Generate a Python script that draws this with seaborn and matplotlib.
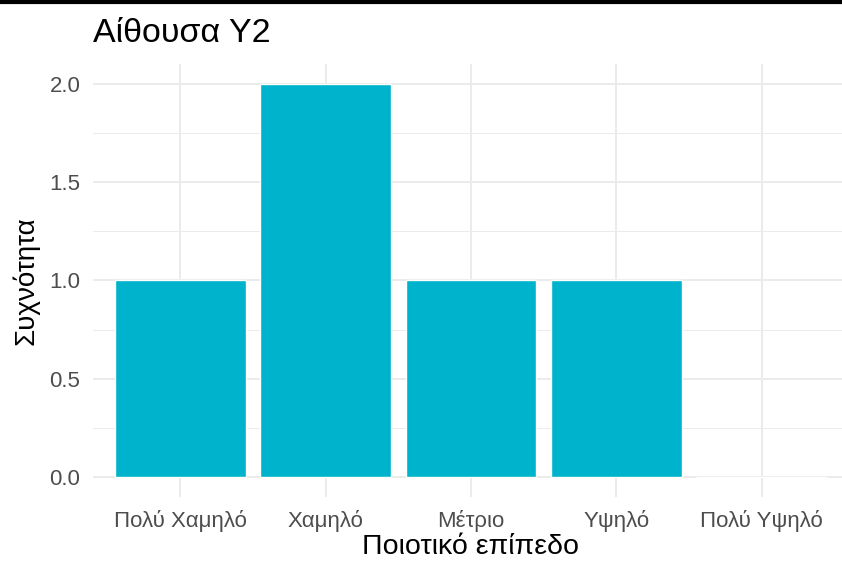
import seaborn as sns
import matplotlib.pyplot as plt
import pandas as pd
from matplotlib.lines import Line2D

# --- Data ---
levels = ["Πολύ Χαμηλό", "Χαμηλό", "Μέτριο", "Υψηλό", "Πολύ Υψηλό"]
counts = [1, 2, 1, 1, 0]

df = pd.DataFrame({"level": levels, "count": counts})

sns.set_theme(style="whitegrid")
plt.rcParams["font.family"] = ["Liberation Sans", "DejaVu Sans"]

W, H = 842, 561
fig = plt.figure(figsize=(W / 100, H / 100), dpi=100)

# panel in pixel coords (left, top, right, bottom); right edge runs past the crop
pl, pt, pr, pb = 93, 64, 849, 497
ax = fig.add_axes([pl / W, 1 - pb / H, (pr - pl) / W, (pb - pt) / H])

sns.barplot(data=df, x="level", y="count", color="#00B3CC", width=0.9,
            saturation=1, ax=ax, order=levels, zorder=3)

ax.set_xlim(-0.6, 4.6)
ax.set_ylim(-0.1, 2.1)
ax.set_yticks([0, 0.5, 1.0, 1.5, 2.0])
ax.set_yticklabels(["0.0", "0.5", "1.0", "1.5", "2.0"])
ax.set_yticks([0.25, 0.75, 1.25, 1.75], minor=True)

ax.set_facecolor("white")
for s in ax.spines.values():
    s.set_visible(False)
ax.grid(which="major", color="#EBEBEB", linewidth=1.4, zorder=0)
ax.grid(which="minor", axis="y", color="#EBEBEB", linewidth=0.7, zorder=0)
ax.set_axisbelow(True)

ax.tick_params(axis="both", which="both", length=0, labelsize=16,
               labelcolor="#4D4D4D")
ax.tick_params(axis="y", pad=9)
ax.tick_params(axis="x", pad=9)

ax.set_xlabel("Ποιοτικό επίπεδο", fontsize=20.5, color="black", labelpad=2)
ax.set_ylabel("Συχνότητα", fontsize=20, color="black", labelpad=7)

fig.text(pl / W, 1 - 42 / H, "Αίθουσα Y2", fontsize=24.5, color="black",
         ha="left", va="baseline")

# thin dark border strip along the top edge of the crop
fig.add_artist(Line2D([0, 1], [1 - 2 / H, 1 - 2 / H], color="black",
                      linewidth=3, transform=fig.transFigure))

fig.savefig("out.png", dpi=100)
